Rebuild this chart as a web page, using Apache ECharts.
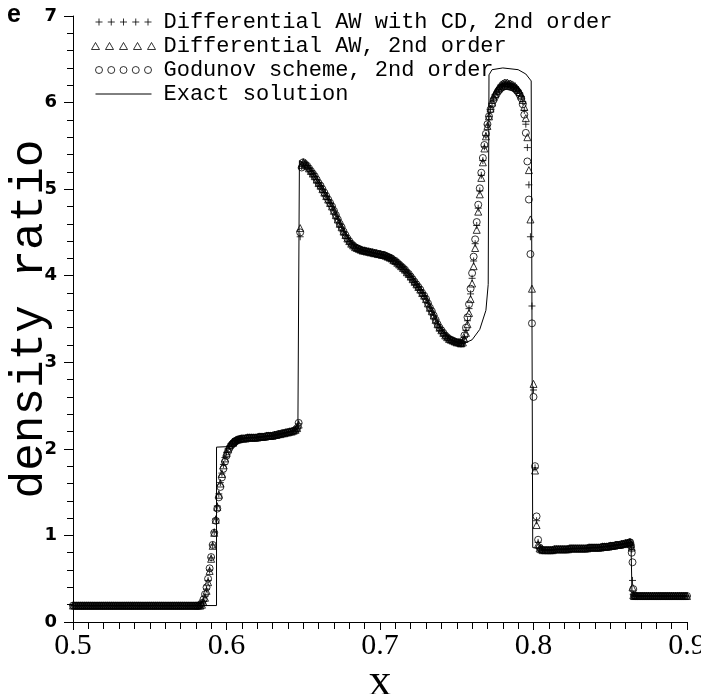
<!DOCTYPE html>
<html>
<head>
<meta charset="utf-8">
<script src="https://cdn.jsdelivr.net/npm/echarts@6/dist/echarts.min.js"></script>
<style>
html,body{margin:0;padding:0;background:#fff;}
#c{width:701px;height:694px;}
</style>
</head>
<body>
<div id="c"></div>
<script>
// ---------- DATA ----------
// segment 1: low left state
var xLeftFlat = [0.5,0.50125,0.5025,0.50375,0.505,0.50625,0.5075,0.50875,
 0.51,0.51125,0.5125,0.51375,0.515,0.51625,0.5175,0.51875,
 0.52,0.52125,0.5225,0.52375,0.525,0.52625,0.5275,0.52875,
 0.53,0.53125,0.5325,0.53375,0.535,0.53625,0.5375,0.53875,
 0.54,0.54125,0.5425,0.54375,0.545,0.54625,0.5475,0.54875,
 0.55,0.55125,0.5525,0.55375,0.555,0.55625,0.5575,0.55875,
 0.56,0.56125,0.5625,0.56375,0.565,0.56625,0.5675,0.56875,
 0.57,0.57125,0.5725,0.57375,0.575,0.57625,0.5775,0.57875,0.58];
var yLeftFlat = [0.19,0.19,0.19,0.19,0.19,0.19,0.19,0.19,
 0.19,0.19,0.19,0.19,0.19,0.19,0.19,0.19,
 0.19,0.19,0.19,0.19,0.19,0.19,0.19,0.19,
 0.19,0.19,0.19,0.19,0.19,0.19,0.19,0.19,
 0.19,0.19,0.19,0.19,0.19,0.19,0.19,0.19,
 0.19,0.19,0.19,0.19,0.19,0.19,0.19,0.19,
 0.19,0.19,0.19,0.19,0.19,0.19,0.19,0.19,
 0.19,0.19,0.19,0.19,0.19,0.19,0.19,0.19,0.19];

// segment 2: left ramp
var xLeftRamp = [0.581,0.582,0.583,0.584,0.585,0.586,0.587,0.588,0.589,0.590,0.591,0.592,0.593,0.594,0.595,0.596,0.597,0.598,0.599,0.600,0.601,0.602,0.603,0.604,0.605,0.606,0.607,0.608,0.609,0.610];
var godRamp  = [0.19,0.19,0.20,0.22,0.26,0.32,0.40,0.50,0.62,0.75,0.89,1.03,1.17,1.31,1.44,1.56,1.67,1.77,1.85,1.92,1.97,2.01,2.04,2.06,2.08,2.09,2.10,2.11,2.11,2.12];
var awRamp   = [0.19,0.19,0.19,0.20,0.23,0.28,0.36,0.46,0.59,0.73,0.88,1.03,1.18,1.33,1.47,1.60,1.71,1.81,1.89,1.95,2.00,2.04,2.06,2.08,2.09,2.10,2.11,2.11,2.12,2.12];
var awcdRamp = [0.19,0.19,0.19,0.21,0.24,0.30,0.38,0.48,0.60,0.74,0.89,1.04,1.19,1.34,1.48,1.61,1.72,1.82,1.90,1.96,2.00,2.03,2.06,2.08,2.09,2.10,2.10,2.11,2.11,2.12];

// segment 3: plateau
var xPlateau = [0.61125,0.6125,0.61375,0.615,0.61625,0.6175,0.61875,0.62,0.62125,0.6225,0.62375,0.625,0.62625,0.6275,0.62875,0.63,0.63125,0.6325,0.63375,0.635,0.63625,0.6375,0.63875,0.64,0.64125,0.6425,0.64375,0.645];
var yPlateau = [2.12,2.12,2.13,2.13,2.13,2.13,2.13,2.13,2.14,2.14,2.14,2.14,2.15,2.15,2.15,2.15,2.16,2.16,2.17,2.17,2.18,2.18,2.19,2.19,2.20,2.20,2.21,2.22];

// segment 4: shock
var xJump = [0.646,0.647,0.648,0.649,0.650];
var godJump  = [2.24,2.30,4.50,5.25,5.31];
var awJump   = [2.24,2.28,4.55,5.28,5.31];
var awcdJump = [2.24,2.29,4.45,5.26,5.31];

// segment 5: smooth decrease
var xSmooth = [0.65125,0.6525,0.65375,0.655,0.65625,0.6575,0.65875,0.66,0.66125,0.6625,0.66375,0.665,0.66625,0.6675,0.66875,0.67,
 0.67125,0.6725,0.67375,0.675,0.67625,0.6775,0.67875,0.68,0.68125,0.6825,0.68375,0.685,0.68625,0.6875,0.68875,0.69,
 0.69125,0.6925,0.69375,0.695,0.69625,0.6975,0.69875,0.70,0.70125,0.7025,0.70375,0.705,0.70625,0.7075,0.70875,0.71,
 0.71125,0.7125,0.71375,0.715,0.71625,0.7175,0.71875,0.72,0.72125,0.7225,0.72375,0.725,0.72625,0.7275,0.72875,0.73,
 0.73125,0.7325,0.73375,0.735,0.73625,0.7375,0.73875,0.74,0.74125,0.7425,0.74375,0.745,0.74625,0.7475,0.74875,0.75,0.75125,0.7525];
var ySmooth = [5.29,5.27,5.24,5.21,5.18,5.15,5.11,5.07,5.04,5.00,4.96,4.92,4.88,4.84,4.80,4.75,
 4.70,4.65,4.60,4.56,4.51,4.47,4.43,4.40,4.37,4.35,4.33,4.32,4.31,4.30,4.29,4.29,
 4.28,4.28,4.27,4.27,4.26,4.26,4.25,4.25,4.24,4.24,4.23,4.22,4.21,4.20,4.18,4.17,
 4.15,4.13,4.11,4.09,4.07,4.04,4.02,3.99,3.96,3.93,3.90,3.87,3.84,3.80,3.77,3.73,
 3.68,3.63,3.59,3.54,3.49,3.44,3.40,3.37,3.34,3.31,3.29,3.27,3.26,3.25,3.24,3.23,3.23,3.22];

// segment 6: peak
var xPeak = [0.753,0.754,0.755,0.756,0.757,0.758,0.759,0.760,0.761,0.762,0.763,0.764,0.765,0.766,0.767,0.768,0.769,0.770,0.771,0.772,0.773,0.774,0.775,0.776,0.777,0.778,0.779,0.780,0.781,0.782,0.783,0.784,0.785,0.786,0.787,0.788,0.789,0.790,0.791,0.792,0.793,0.794,0.795,0.796,0.797,0.798,0.799,0.800,0.801,0.802,0.803,0.804,0.805,0.806];
var godPeak  = [3.22,3.25,3.31,3.40,3.52,3.67,3.85,4.03,4.22,4.42,4.62,4.82,5.01,5.19,5.36,5.51,5.64,5.75,5.84,5.92,5.98,6.03,6.07,6.10,6.13,6.15,6.17,6.18,6.19,6.19,6.19,6.19,6.18,6.18,6.17,6.16,6.14,6.12,6.09,6.05,5.98,5.86,5.65,5.32,4.88,4.25,3.45,2.60,1.80,1.22,0.95,0.86,0.84,0.83];
var awPeak   = [3.22,3.23,3.27,3.34,3.44,3.57,3.73,3.91,4.11,4.32,4.53,4.74,4.94,5.13,5.31,5.47,5.61,5.73,5.84,5.93,6.00,6.06,6.10,6.14,6.17,6.19,6.21,6.22,6.23,6.23,6.23,6.22,6.22,6.21,6.20,6.19,6.17,6.15,6.12,6.08,6.03,5.95,5.82,5.60,5.22,4.65,3.85,2.75,1.75,1.12,0.90,0.85,0.84,0.83];
var awcdPeak = [3.22,3.24,3.29,3.37,3.48,3.62,3.79,3.97,4.17,4.37,4.58,4.78,4.98,5.16,5.33,5.49,5.62,5.74,5.84,5.92,5.99,6.05,6.09,6.12,6.15,6.17,6.19,6.20,6.21,6.21,6.21,6.21,6.20,6.19,6.18,6.17,6.16,6.14,6.11,6.07,6.01,5.91,5.75,5.48,5.05,4.45,3.65,2.68,1.78,1.17,0.92,0.85,0.84,0.83];

// segment 7: right intermediate state
var xRight = [0.8075,0.80875,0.81,0.81125,0.8125,0.81375,0.815,0.81625,0.8175,0.81875,0.82,0.82125,0.8225,0.82375,0.825,0.82625,0.8275,0.82875,0.83,0.83125,0.8325,0.83375,0.835,0.83625,0.8375,0.83875,0.84,0.84125,0.8425,0.84375,0.845,0.84625,0.8475,0.84875,0.85,0.85125,0.8525,0.85375,0.855,0.85625,0.8575,0.85875,0.86,0.86125,0.8625];
var yRight = [0.83,0.83,0.83,0.83,0.83,0.84,0.84,0.84,0.84,0.84,0.84,0.84,0.84,0.85,0.85,0.85,0.85,0.85,0.85,0.85,0.85,0.85,0.85,0.86,0.86,0.86,0.86,0.86,0.86,0.86,0.87,0.87,0.87,0.87,0.88,0.88,0.88,0.89,0.89,0.89,0.90,0.90,0.91,0.91,0.92];

// segment 8: right shock
var xDrop = [0.863,0.8635,0.864,0.8645,0.865,0.8655];
var godDrop  = [0.92,0.88,0.80,0.69,0.38,0.31];
var awDrop   = [0.92,0.90,0.86,0.40,0.31,0.30];
var awcdDrop = [0.92,0.90,0.84,0.48,0.32,0.30];

// segment 9: right undisturbed state
var xRightFlat = [0.86625,0.8675,0.86875,0.87,0.87125,0.8725,0.87375,0.875,0.87625,0.8775,0.87875,0.88,0.88125,0.8825,0.88375,0.885,0.88625,0.8875,0.88875,0.89,0.89125,0.8925,0.89375,0.895,0.89625,0.8975,0.89875,0.9];
var yRightFlat = [0.30,0.30,0.30,0.30,0.30,0.30,0.30,0.30,0.30,0.30,0.30,0.30,0.30,0.30,0.30,0.30,0.30,0.30,0.30,0.30,0.30,0.30,0.30,0.30,0.30,0.30,0.30,0.30];

// exact solution
var exactX = [0.5,0.5935,0.5935,0.6065,0.607,0.62,0.63,0.64,0.6465,0.6475,0.6475,0.6525,0.655,0.66,0.665,0.67,0.675,0.68,0.685,0.69,0.70,0.71,0.72,0.73,0.735,0.74,0.745,0.75,0.755,0.76,0.765,0.769,0.7705,0.771,0.773,0.78,0.79,0.795,0.7985,0.7995,0.805,0.81,0.82,0.83,0.84,0.85,0.86,0.8635,0.8642,0.9];
var exactY = [0.19,0.19,2.02,2.03,2.12,2.13,2.15,2.19,2.23,2.23,5.33,5.27,5.21,5.07,4.92,4.75,4.56,4.40,4.32,4.29,4.25,4.17,3.99,3.73,3.54,3.37,3.27,3.23,3.22,3.26,3.38,3.60,3.90,6.32,6.38,6.40,6.38,6.33,6.25,0.86,0.84,0.83,0.84,0.85,0.86,0.88,0.91,0.92,0.30,0.30];

var xTicks = ['0.5','0.6','0.7','0.8','0.9'];
var legendNames = ['Differential AW with CD, 2nd order','Differential AW, 2nd order','Godunov scheme, 2nd order','Exact solution'];

// ---------- build tables ----------
function zip(xs, ys){ var out=[]; for (var i=0;i<xs.length;i++) out.push([xs[i], ys[i]]); return out; }
function build(parts){ var out=[]; parts.forEach(function(p){ out = out.concat(zip(p[0], p[1])); }); return out; }

var godData = build([[xLeftFlat,yLeftFlat],[xLeftRamp,godRamp],[xPlateau,yPlateau],[xJump,godJump],[xSmooth,ySmooth],[xPeak,godPeak],[xRight,yRight],[xDrop,godDrop],[xRightFlat,yRightFlat]]);
var awData = build([[xLeftFlat,yLeftFlat],[xLeftRamp,awRamp],[xPlateau,yPlateau],[xJump,awJump],[xSmooth,ySmooth],[xPeak,awPeak],[xRight,yRight],[xDrop,awDrop],[xRightFlat,yRightFlat]]);
var awcdData = build([[xLeftFlat,yLeftFlat],[xLeftRamp,awcdRamp],[xPlateau,yPlateau],[xJump,awcdJump],[xSmooth,ySmooth],[xPeak,awcdPeak],[xRight,yRight],[xDrop,awcdDrop],[xRightFlat,yRightFlat]]);
var exactData = zip(exactX, exactY);

// ---------- symbols ----------
var crossSym = 'path://M0,4H8M4,0V8';
var cross5 = 'path://M0,4H8M4,0V8M14,4H22M18,0V8M28,4H36M32,0V8M42,4H50M46,0V8M56,4H64M60,0V8';
var tri5 = 'path://M0,7L4,0L8,7Z M14,7L18,0L22,7Z M28,7L32,0L36,7Z M42,7L46,0L50,7Z M56,7L60,0L64,7Z';
var circ5 = 'path://M0,4A4,4,0,1,0,8,4A4,4,0,1,0,0,4Z M14,4A4,4,0,1,0,22,4A4,4,0,1,0,14,4Z M28,4A4,4,0,1,0,36,4A4,4,0,1,0,28,4Z M42,4A4,4,0,1,0,50,4A4,4,0,1,0,42,4Z M56,4A4,4,0,1,0,64,4A4,4,0,1,0,56,4Z';
var line1 = 'path://M0,0L0,0M0,4H64M64,8L64,8';
var openStyle = {color:'transparent', borderColor:'#000', borderWidth:1};

var chart = echarts.init(document.getElementById('c'), null, {renderer:'canvas'});
chart.setOption({
  backgroundColor:'#fff',
  animation:false,
  graphic:[{type:'text', left:7, top:3, style:{text:'e', font:'bold 25px "Liberation Sans"', fill:'#000'}}],
  grid:{left:73, right:14, top:16, bottom:72, containLabel:false, outerBoundsMode:'none'},
  legend:{
    orient:'vertical', left:86, top:6, itemWidth:64, itemHeight:7, itemGap:2,
    selectedMode:false,
    textStyle:{fontFamily:'Liberation Mono', fontSize:22, color:'#000', padding:[0,0,0,3]},
    data:[
      {name:legendNames[0], icon:cross5, itemStyle:openStyle},
      {name:legendNames[1], icon:tri5, itemStyle:openStyle},
      {name:legendNames[2], icon:circ5, itemStyle:openStyle},
      {name:legendNames[3], icon:line1, itemStyle:openStyle}
    ]
  },
  xAxis:{
    type:'value', min:0.5, max:0.9, interval:0.1,
    name:'x', nameLocation:'middle', nameGap:38, nameMoveOverlap:false,
    nameTextStyle:{fontFamily:'Liberation Serif', fontSize:46, color:'#000'},
    axisLine:{lineStyle:{color:'#000', width:1}},
    axisTick:{length:8, lineStyle:{color:'#000'}},
    minorTick:{show:true, splitNumber:10, length:7, lineStyle:{color:'#000'}},
    splitLine:{show:false}, minorSplitLine:{show:false},
    axisLabel:{fontFamily:'Liberation Serif', fontSize:30, color:'#000', margin:9,
      formatter:function(v){ var i=Math.round((v-0.5)*10); return xTicks[i] !== undefined ? xTicks[i] : v.toFixed(1); }}
  },
  yAxis:{
    type:'value', min:0, max:7, interval:1,
    name:'density ratio', nameLocation:'middle', nameGap:20, nameRotate:90, nameMoveOverlap:false,
    nameTextStyle:{fontFamily:'Liberation Mono', fontSize:46, color:'#000'},
    axisLine:{show:true, lineStyle:{color:'#000', width:1}},
    axisTick:{show:true, length:9, lineStyle:{color:'#000'}},
    minorTick:{show:true, splitNumber:5, length:6, lineStyle:{color:'#000'}},
    splitLine:{show:false}, minorSplitLine:{show:false},
    axisLabel:{fontFamily:'DejaVu Sans', fontWeight:'bold', fontSize:18, color:'#000', margin:16}
  },
  series:[
    {name:legendNames[0], type:'scatter', data:awcdData, symbol:crossSym, symbolSize:7, itemStyle:openStyle, z:3},
    {name:legendNames[1], type:'scatter', data:awData, symbol:'triangle', symbolSize:7, itemStyle:openStyle, z:3},
    {name:legendNames[2], type:'scatter', data:godData, symbol:'circle', symbolSize:7, itemStyle:openStyle, z:3},
    {name:legendNames[3], type:'line', data:exactData, showSymbol:false, symbol:'none', lineStyle:{color:'#000', width:1}, itemStyle:{color:'#000'}, z:4}
  ]
});
</script>
</body>
</html>
